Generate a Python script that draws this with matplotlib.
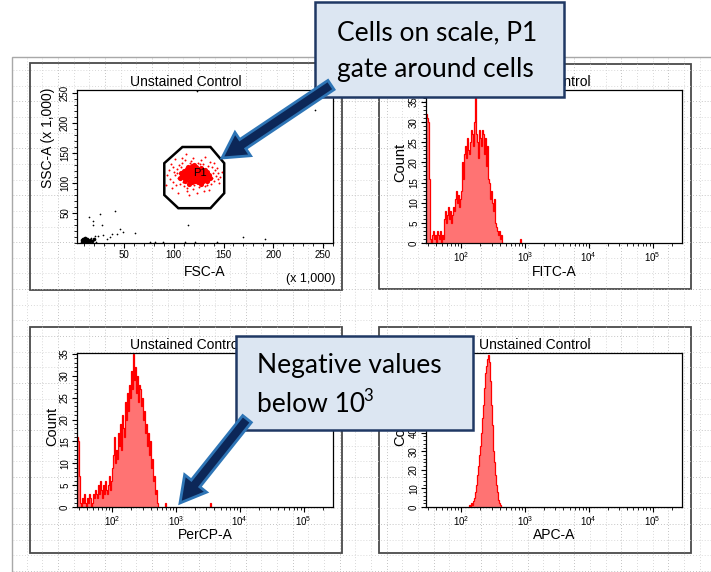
import numpy as np
import matplotlib
matplotlib.use('Agg')
import matplotlib.pyplot as plt
from matplotlib.patches import Rectangle, Polygon, FancyArrow
from matplotlib.ticker import MultipleLocator, LogLocator, NullFormatter

W, H = 711, 572
plt.rcParams['font.family'] = ['Liberation Sans', 'DejaVu Sans']
plt.rcParams['axes.linewidth'] = 0.9

# ---- data ----
# FSC-A vs SSC-A (x 1,000), P1 gate
gate_fsc = [108.7, 136.9, 150.7, 150.7, 136.9, 104.6, 90.5, 90.5]
gate_ssc = [160, 160, 133, 83, 58, 58, 80, 133]

core_fsc = [112, 115, 118, 121, 124, 127, 130, 116, 119, 122, 125, 128, 113, 110, 117,
            120, 123, 126, 129, 132, 131, 126, 121, 116, 112, 109, 114, 118, 122, 127,
            133, 134, 129, 124, 118, 111, 108, 110, 113, 135, 119, 123, 116, 126, 121,
            114, 128, 124, 111, 131, 107, 136, 120, 115, 127, 133, 106, 117, 125, 122]
core_ssc = [118, 121, 116, 119, 114, 117, 112, 110, 107, 111, 108, 106, 112, 115, 124,
            125, 122, 121, 120, 115, 109, 104, 103, 104, 107, 110, 126, 128, 127, 125,
            118, 111, 103, 101, 101, 103, 113, 120, 123, 114, 113, 117, 115, 112, 108,
            117, 110, 124, 109, 122, 117, 108, 130, 99, 99, 104, 109, 119, 119, 105]

spread_fsc = [100, 103, 104, 102, 98, 105, 108, 106, 110, 113, 119, 125, 131, 137, 140,
              142, 141, 138, 134, 129, 124, 117, 111, 96, 99, 101, 139, 144, 146, 143,
              108, 119, 127, 136, 95, 97, 104, 123, 115, 135, 145, 148, 92, 101, 112,
              131, 140, 107, 133, 120, 109, 126, 138, 103, 116, 144, 99, 130, 113, 93]
spread_ssc = [118, 124, 108, 96, 92, 130, 134, 98, 95, 92, 90, 93, 95, 99, 104,
              112, 121, 126, 129, 132, 134, 136, 138, 106, 102, 113, 116, 117, 110, 125,
              142, 141, 139, 135, 122, 131, 83, 84, 80, 88, 100, 119, 97, 140, 148,
              143, 133, 126, 96, 96, 101, 131, 109, 116, 133, 106, 126, 87, 87, 113]

debris_fsc = [242, 123, 114, 170, 192, 15, 26, 41, 19, 28, 19, 46, 49, 61, 38, 43, 24,
              29, 36, 76, 81, 89, 111, 121, 143, 22, 17, 21, 33]
debris_ssc = [222, 253, 30, 10, 7, 43, 48, 53, 37, 30, 30, 23, 18, 17, 15, 15, 12,
              13, 10, 2, 2, 2, 2, 2, 2, 2, 9, 11, 6]
blob_fsc = [8, 9, 10, 11, 12, 13, 9, 11, 14, 10, 12, 8, 15, 13, 16, 18, 20]
blob_ssc = [2, 4, 1, 3, 5, 2, 7, 8, 4, 6, 1, 5, 2, 7, 5, 3, 6]

# histograms: counts per 1/64 decade bin, first bin starts at 10**start
BIN = 1 / 64
fitc_start = 1.45
fitc_counts = [32, 31, 30, 16,
               1, 0, 2, 3, 1, 2, 0, 3, 2, 1, 3, 0, 2, 1,
               6, 8, 5, 7, 9, 6, 8, 5, 7, 9,
               8, 11, 13, 10, 12, 9, 11, 13,
               20, 16, 22, 24, 21, 26, 23, 22,
               25, 28, 27, 24, 30, 38, 27,
               25, 21, 28, 26, 24, 28, 27, 22, 26,
               19, 24, 16, 15, 11, 13, 10, 8, 11, 5, 4,
               3, 2, 3, 1, 2, 0]
fitc_stray = [2.92]

percp_start = 1.45
percp_counts = [16, 15, 7,
                1, 0, 2, 1, 3, 1, 0, 2, 1, 3, 2, 0, 1, 3, 2, 4, 3,
                2, 5, 3, 6, 4, 2, 5, 3, 6, 4, 3, 5, 7, 4, 6,
                9, 12, 16, 10, 13, 11,
                17, 14, 19, 13, 21, 18, 16, 24, 20,
                26, 22, 28, 25, 31, 27, 35, 29, 32,
                26, 30, 24, 28, 27, 23, 25, 20,
                22, 17, 19, 14, 17, 12, 15, 9, 11,
                6, 7, 3, 4, 1, 0]
percp_stray = [2.83, 3.53]

apc_start = 2.12
apc_counts = [1, 0, 2, 1, 3, 5, 8, 12, 17, 22, 28, 33, 40, 48, 55, 64, 72, 76, 80, 82,
              78, 68, 55, 44, 30, 24, 17, 12, 8, 4, 2, 1]
apc_stray = []

log_lim = (1.45, 5.46)
titles = ['Unstained Control'] * 4

fig = plt.figure(figsize=(W / 100, H / 100), dpi=100)


def pix_axes(x0, y0, x1, y1, **kw):
    return fig.add_axes([x0 / W, 1 - y1 / H, (x1 - x0) / W, (y1 - y0) / H], **kw)


# background: dotted layout canvas and panel frames
bg = pix_axes(0, 0, W, H)
bg.set_xlim(0, W)
bg.set_ylim(H, 0)
bg.axis('off')
bg.add_patch(Rectangle((12, 57), W, H, fc='white', ec='#a8a8a8', lw=1.0))
for i, gx in enumerate(np.arange(26.7, W, 15.65)):
    bg.plot([gx, gx], [58, H], color='#b0b0b0' if i % 3 == 2 else '#cdcdcd',
            lw=0.6, ls=(0, (1, 2.5)))
for i, gy in enumerate(np.arange(70, H, 15.65)):
    bg.plot([13, W], [gy, gy], color='#b0b0b0' if i % 3 == 2 else '#cdcdcd',
            lw=0.6, ls=(0, (1, 2.5)))

frames = [(30, 63, 342, 290), (379, 64, 691, 289), (30, 327, 342, 553), (379, 327, 691, 553)]
for (x0, y0, x1, y1) in frames:
    bg.add_patch(Rectangle((x0, y0), x1 - x0, y1 - y0, fc='white', ec='#4a4a4a', lw=1.3))

title_pos = [(186, 82), (535, 82), (186, 345), (535, 345)]
for (tx, ty), t in zip(title_pos, titles):
    bg.text(tx, ty, t, ha='center', va='center', fontsize=10)

bg.text(205, 272, 'FSC-A', ha='center', va='center', fontsize=10)
bg.text(311, 279, '(x 1,000)', ha='center', va='center', fontsize=9)
bg.text(48, 138, 'SSC-A (x 1,000)', ha='center', va='center', rotation=90, fontsize=10)
bg.text(554, 272, 'FITC-A', ha='center', va='center', fontsize=10)
bg.text(205, 535, 'PerCP-A', ha='center', va='center', fontsize=10)
bg.text(554, 535, 'APC-A', ha='center', va='center', fontsize=10)
for cx, cy in [(400, 162), (52, 426), (400, 426)]:
    bg.text(cx, cy, 'Count', ha='center', va='center', rotation=90, fontsize=10.5)


def style(ax):
    ax.tick_params(which='major', length=3.5, width=0.8, labelsize=7, pad=1.5)
    ax.tick_params(which='minor', length=2, width=0.6)
    ax.tick_params(axis='y', labelrotation=90)
    for lab in ax.get_yticklabels():
        lab.set_va('center')


def histo(ax, start, counts, stray, ymax, ystep, yminor):
    edges = 10 ** (start + BIN * np.arange(len(counts) + 1))
    ax.stairs(counts, edges, fill=True, color='#ff7373', lw=0)
    ax.stairs(counts, edges, color='#ff0000', lw=0.9)
    for s in stray:
        ax.stairs([1], 10 ** np.array([s, s + BIN]), color='#ff0000', lw=0.9)
    ax.set_xscale('log')
    ax.set_xlim(10 ** log_lim[0], 10 ** log_lim[1])
    ax.set_ylim(0, ymax)
    ax.xaxis.set_major_locator(LogLocator(base=10))
    ax.xaxis.set_minor_locator(LogLocator(base=10, subs=np.arange(2, 10)))
    ax.xaxis.set_minor_formatter(NullFormatter())
    ax.yaxis.set_major_locator(MultipleLocator(ystep))
    ax.yaxis.set_minor_locator(MultipleLocator(yminor))
    style(ax)


# FSC/SSC dot plot
ax1 = pix_axes(77, 90, 333, 243)
ax1.scatter(debris_fsc, debris_ssc, s=1.5, c='black', lw=0)
ax1.scatter(blob_fsc, blob_ssc, s=7, c='black', lw=0)
ax1.scatter(spread_fsc, spread_ssc, s=2, c='#ff0000', lw=0)
ax1.scatter(core_fsc, core_ssc, s=14, c='#ff0000', lw=0)
ax1.add_patch(Polygon(list(zip(gate_fsc, gate_ssc)), closed=True, fill=False,
                      ec='black', lw=1.8))
ax1.text(126.5, 117, 'P1', ha='center', va='center', fontsize=8)
ax1.set_xlim(2.8, 260)
ax1.set_ylim(0, 255)
ax1.xaxis.set_major_locator(MultipleLocator(50))
ax1.xaxis.set_minor_locator(MultipleLocator(10))
ax1.yaxis.set_major_locator(MultipleLocator(50))
ax1.yaxis.set_minor_locator(MultipleLocator(10))
ax1.set_xticks([50, 100, 150, 200, 250])
ax1.set_yticks([50, 100, 150, 200, 250])
style(ax1)

ax2 = pix_axes(426, 90, 682, 243)
histo(ax2, fitc_start, fitc_counts, fitc_stray, 38, 5, 1)
ax3 = pix_axes(77, 353, 333, 507)
histo(ax3, percp_start, percp_counts, percp_stray, 35.2, 5, 1)
ax4 = pix_axes(426, 353, 682, 507)
histo(ax4, apc_start, apc_counts, apc_stray, 83, 10, 2)

# callouts on top
ov = pix_axes(0, 0, W, H, zorder=5)
ov.set_xlim(0, W)
ov.set_ylim(H, 0)
ov.axis('off')
box_fc, box_ec = '#dce6f2', '#1f3864'
arrow_fc, arrow_ec = '#0c2758', '#2e75b6'
cfont = dict(family=['Lato', 'DejaVu Sans'], fontsize=19, color='black', va='baseline')

ov.add_patch(Rectangle((315, 2), 249, 95, fc=box_fc, ec=box_ec, lw=1.8, zorder=1))
ov.text(337, 40, 'Cells on scale, P1', **cfont)
ov.text(337, 77, 'gate around cells', **cfont)
ov.add_patch(FancyArrow(331, 85, -109, 73, width=11, head_width=28, head_length=25,
                        length_includes_head=True, fc=arrow_fc, ec=arrow_ec, lw=2, zorder=3))

ov.add_patch(Rectangle((236, 336), 237, 94, fc=box_fc, ec=box_ec, lw=1.8, zorder=1))
ov.text(257, 373, 'Negative values', **cfont)
base = ov.text(257, 412, 'below 10', **cfont)
fig.canvas.draw()
x_end = base.get_window_extent().x1
ov.text(x_end - 1.5, 401, '3', family=['Lato', 'DejaVu Sans'], fontsize=12,
        color='black', va='baseline')
ov.add_patch(FancyArrow(247, 419, -67, 84, width=11, head_width=28, head_length=25,
                        length_includes_head=True, fc=arrow_fc, ec=arrow_ec, lw=2, zorder=3))

fig.savefig('out.png', dpi=100)
